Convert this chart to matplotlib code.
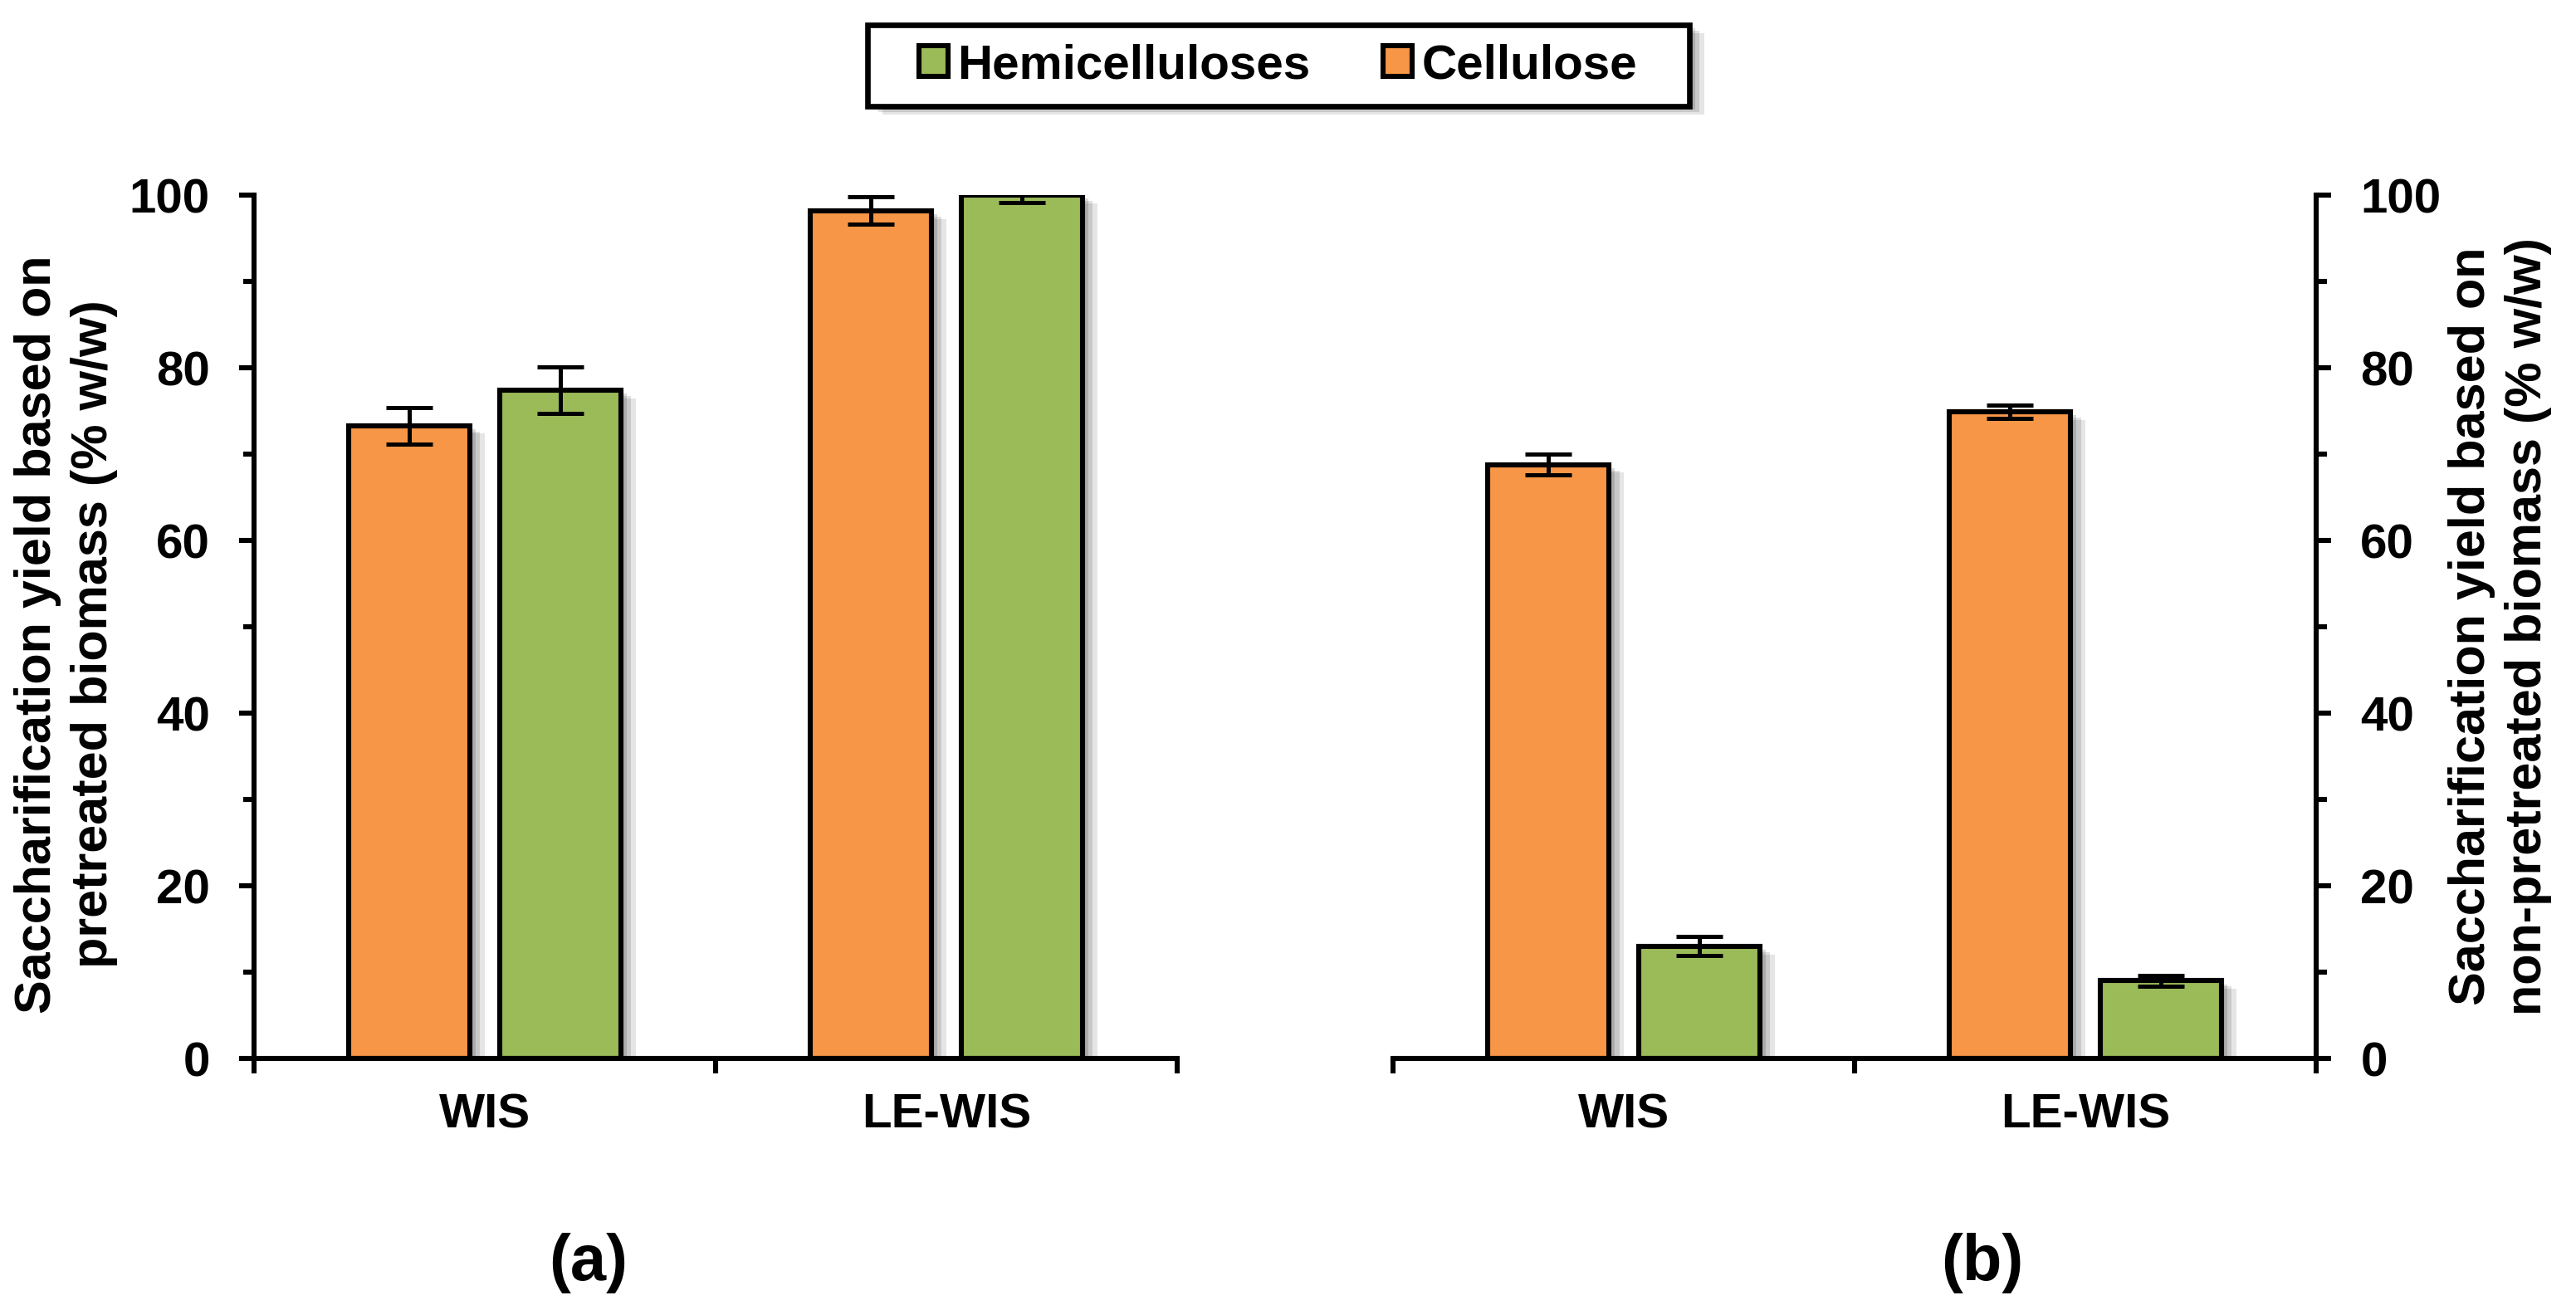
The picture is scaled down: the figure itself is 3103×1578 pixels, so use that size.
import numpy as np
import matplotlib
matplotlib.use("Agg")
import matplotlib.pyplot as plt
import matplotlib.patheffects as pe
from matplotlib import font_manager
from matplotlib.patches import Patch, Rectangle
from matplotlib.ticker import MultipleLocator

# data
categories = ["WIS", "LE-WIS"]

# (a) yield based on pretreated biomass
cel_a = [73.3, 98.2]
cel_a_err = [2.1, 1.6]
hemi_a = [77.4, 100.0]
hemi_a_err = [2.7, 0.85]

# (b) yield based on non-pretreated biomass
cel_b = [68.8, 74.9]
cel_b_err = [1.2, 0.8]
hemi_b = [13.0, 9.0]
hemi_b_err = [1.1, 0.6]

orange = "#F79646"
green = "#9BBB59"

plt.rcParams["font.family"] = ["Liberation Sans", "DejaVu Sans"]
plt.rcParams["font.weight"] = "bold"

names = {f.name for f in font_manager.fontManager.ttflist}
if "Liberation Sans Narrow" in names:
    label_font = ["Liberation Sans Narrow", "Liberation Sans"]
    label_size = 26
    leg_size = 25
else:
    label_font = ["Liberation Sans", "DejaVu Sans"]
    label_size = 22
    leg_size = 21

shadow = [pe.SimplePatchShadow(offset=(2.5, -1.5), shadow_rgbFace="k", alpha=0.14),
          pe.SimplePatchShadow(offset=(4.5, -2.5), shadow_rgbFace="k", alpha=0.12),
          pe.SimplePatchShadow(offset=(6.5, -3.5), shadow_rgbFace="k", alpha=0.10),
          pe.Normal()]

fig = plt.figure(figsize=(15.515, 7.89), dpi=200)
ax1 = fig.add_axes([0.0986, 0.192, 0.3584, 0.659])
ax2 = fig.add_axes([0.5408, 0.192, 0.3584, 0.659])

x = np.arange(len(categories)) + 0.5
off = 0.1635
w = 0.262
ekw = dict(elinewidth=1.8, capsize=10, capthick=1.8, ecolor="black")


def draw(ax, cel, cel_err, hemi, hemi_err):
    b1 = ax.bar(x - off, cel, w, yerr=cel_err, color=orange, edgecolor="black",
                linewidth=2.2, error_kw=ekw, zorder=2)
    b2 = ax.bar(x + off, hemi, w, yerr=hemi_err, color=green, edgecolor="black",
                linewidth=2.2, error_kw=ekw, zorder=2)
    for p in list(b1) + list(b2):
        p.set_path_effects(shadow)
    ax.set_xlim(0, 2)
    ax.set_ylim(0, 100)
    ax.yaxis.set_major_locator(MultipleLocator(20))
    ax.yaxis.set_minor_locator(MultipleLocator(10))
    ax.set_xticks([0, 1, 2])
    ax.set_xticklabels([])
    ax.set_xticks(x, minor=True)
    ax.set_xticklabels(categories, minor=True)
    ax.tick_params(axis="x", which="major", direction="out", length=6.5, width=2.2)
    ax.tick_params(axis="x", which="minor", length=0, pad=15, labelsize=21)
    ax.tick_params(axis="y", which="major", direction="out", length=6.5, width=2.2,
                   labelsize=21, pad=12.6)
    ax.tick_params(axis="y", which="minor", direction="out", length=4.7, width=2.2)
    ax.spines["top"].set_visible(False)
    ax.spines["bottom"].set_linewidth(2.2)


draw(ax1, cel_a, cel_a_err, hemi_a, hemi_a_err)
draw(ax2, cel_b, cel_b_err, hemi_b, hemi_b_err)

ax1.spines["right"].set_visible(False)
ax1.spines["left"].set_linewidth(2.2)
ax2.spines["left"].set_visible(False)
ax2.spines["right"].set_linewidth(2.2)
ax2.yaxis.tick_right()

fig.text(0.0255, 0.516, "Saccharification yield based on\npretreated biomass (% w/w)",
         rotation=90, ha="center", va="center", multialignment="center",
         fontsize=label_size, family=label_font, fontweight="bold", linespacing=1.25)
fig.text(0.9705, 0.522, "Saccharification yield based on\nnon-pretreated biomass (% w/w)",
         rotation=90, ha="center", va="center", multialignment="center",
         fontsize=label_size, family=label_font, fontweight="bold", linespacing=1.25)

fig.text(0.2285, 0.0355, "(a)", fontsize=28, fontweight="bold", ha="center", va="center")
fig.text(0.7696, 0.0355, "(b)", fontsize=28, fontweight="bold", ha="center", va="center")

# legend box drawn by hand so its padding can follow the original
box = Rectangle((0.3368, 0.9189), 0.319, 0.0621, transform=fig.transFigure,
                facecolor="white", edgecolor="black", linewidth=2.4, zorder=5)
box.set_path_effects(shadow)
fig.add_artist(box)

handles = [Patch(facecolor=green, edgecolor="black", linewidth=2.2, label="Hemicelluloses"),
           Patch(facecolor=orange, edgecolor="black", linewidth=2.2, label="Cellulose")]
leg = fig.legend(handles=handles, loc="center", bbox_to_anchor=(0.4962, 0.9499), ncol=2,
                 frameon=False, prop=dict(family=label_font, size=leg_size, weight="bold"),
                 handlelength=0.6, handleheight=0.6, handletextpad=0.2,
                 columnspacing=1.5, borderpad=0.2)
leg.set_zorder(6)

fig.savefig("out.png", dpi=200, facecolor="white")
